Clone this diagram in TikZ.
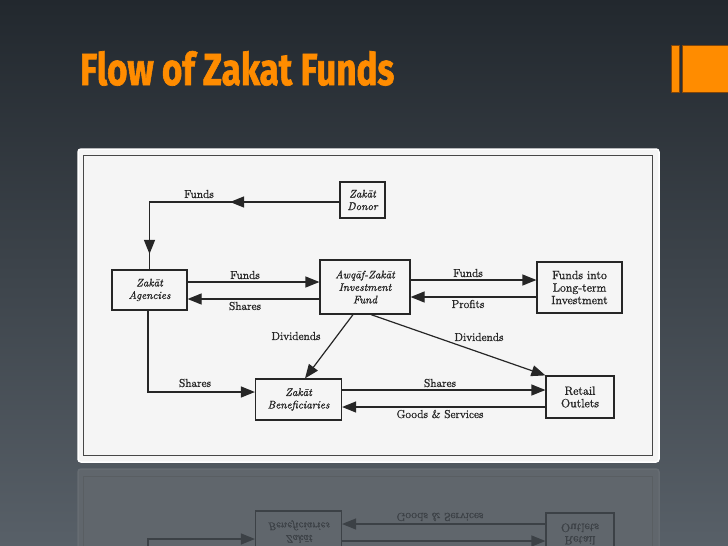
\documentclass[tikz,border=0pt]{standalone}
\usepackage{fontspec}
\setmainfont{Latin Modern Roman}[FakeBold=1.2]
\usepackage{graphicx}
\usetikzlibrary{arrows.meta,decorations.markings}
\newfontfamily\titlefont{Fira Sans}[FakeBold=1.5]
\definecolor{bgtop}{RGB}{34,40,46}
\definecolor{bgbot}{RGB}{88,96,104}
\definecolor{orng}{RGB}{255,140,0}
\definecolor{orngdark}{RGB}{130,70,10}
\definecolor{paper}{RGB}{245,245,245}
\definecolor{panelline}{RGB}{255,255,255}
\definecolor{ink}{RGB}{38,38,38}
\tikzset{
  box/.style={draw=ink, line width=1.2pt, fill=paper, inner sep=0pt, align=center,
    font=\fontsize{12}{12.5}\selectfont, text=ink},
  itbox/.style={box, font=\fontsize{11}{12.5}\selectfont\itshape},
  flow/.style={draw=ink, line width=1.2pt},
  tip/.style={-{Triangle[length=14pt,width=11pt]}},
  lbl/.style={font=\fontsize{11.5}{12}\selectfont, text=ink, inner sep=0pt},
  panelbox/.style={draw=panelline, line width=1.5pt, fill=paper, rounded corners=3pt,
    minimum width=581pt, minimum height=313pt, inner sep=0pt},
  framebox/.style={draw=ink!85, line width=1pt, minimum width=569pt, minimum height=300pt,
    inner sep=0pt},
}
\begin{document}
\begin{tikzpicture}[x=1pt,y=-1pt]
  \useasboundingbox (0,0) rectangle (728,546);
  \shade[top color=bgtop, bottom color=bgbot] (0,0) rectangle (728,546);
  % title and decorative bars
  \node[anchor=south west, inner sep=0pt, text=orng] (title) at (80,86)
    {\resizebox{314pt}{34pt}{\titlefont\bfseries Flow of Zakat Funds}};
  \fill[orng, draw=orngdark, line width=0.8pt] (671,45) rectangle (679,92);
  \fill[orng, draw=orngdark, line width=0.8pt] (682,45) rectangle (729,92);
  % panel
  \node[panelbox] (panel) at (368.5,305.5) {};
  \node[framebox] (frame) at (367.5,305) {};
  % boxes
  \node[itbox, minimum width=45pt, minimum height=36pt] (donor) at (362.5,200) {Zak\=at\\Donor};
  \node[itbox, minimum width=75pt, minimum height=40pt] (agencies) at (149.5,290) {Zak\=at\\Agencies};
  \node[itbox, minimum width=90pt, minimum height=54pt] (fund) at (365,287) {Awq\=af-Zak\=at\\Investment\\Fund};
  \node[box, minimum width=85pt, minimum height=51pt] (longterm) at (579.5,287.5) {Funds into\\Long-term\\Investment};
  \node[itbox, minimum width=86pt, minimum height=41pt] (benef) at (298.5,399.5) {Zak\=at\\Beneficiaries};
  \node[box, minimum width=68pt, minimum height=42pt] (retail) at (580,397) {Retail\\Outlets};
  % connectors
  \draw[flow, postaction={decorate}, decoration={markings,
      mark=at position 0.425 with {\arrow{Triangle[length=14pt,width=11pt]}},
      mark=at position 0.94 with {\arrow{Triangle[length=14pt,width=11pt]}}}]
    (donor.west |- 0,202) -| (agencies.north);
  \draw[flow,tip] (agencies.east |- 0,282) -- (fund.west |- 0,282);
  \draw[flow,tip] (fund.west |- 0,299) -- (agencies.east |- 0,299);
  \draw[flow,tip] (fund.east |- 0,280) -- (longterm.west |- 0,280);
  \draw[flow,tip] (longterm.west |- 0,297) -- (fund.east |- 0,297);
  \draw[flow,tip] (fund.south -| 353,0) -- (benef.north -| 305,0);
  \draw[flow,tip] (fund.south -| 371,0) -- (retail.north west);
  \draw[flow,tip] (agencies.south -| 148,0) |- (benef.west |- 0,392);
  \draw[flow,tip] (benef.east |- 0,390) -- (retail.west |- 0,390);
  \draw[flow,tip] (retail.west |- 0,407) -- (benef.east |- 0,407);
  % labels
  \node[lbl] (l1) at (199,194) {Funds};
  \node[lbl] (l2) at (245,275) {Funds};
  \node[lbl] (l3) at (245,306) {Shares};
  \node[lbl] (l4) at (468,273) {Funds};
  \node[lbl] (l5) at (468,304) {Profits};
  \node[lbl] (l6) at (296,336) {Dividends};
  \node[lbl] (l7) at (479,337) {Dividends};
  \node[lbl] (l8) at (195,383) {Shares};
  \node[lbl] (l9) at (440,383) {Shares};
  \node[lbl] (l10) at (440,414) {Goods \& Services};
  % reflection (lower part of the panel only)
  \begin{scope}
    \clip (0,466) rectangle (728,546);
    \definecolor{paper}{RGB}{96,102,108}
    \definecolor{panelline}{RGB}{102,108,114}
    \definecolor{ink}{RGB}{60,65,70}
    \begin{scope}[yshift=-931pt, yscale=-1, transform shape]
      \node[panelbox] (r-panel) at (368.5,305.5) {};
      \node[framebox] (r-frame) at (367.5,305) {};
      \node[itbox, minimum width=86pt, minimum height=41pt] (r-benef) at (298.5,399.5) {Zak\=at\\Beneficiaries};
      \node[box, minimum width=68pt, minimum height=42pt] (r-retail) at (580,397) {Retail\\Outlets};
      \coordinate (r-ag) at (148,380);
      \draw[flow,tip] (r-ag) |- (r-benef.west |- 0,392);
      \draw[flow,tip] (r-benef.east |- 0,390) -- (r-retail.west |- 0,390);
      \draw[flow,tip] (r-retail.west |- 0,407) -- (r-benef.east |- 0,407);
      \node[lbl] (r-l10) at (440,414) {Goods \& Services};
    \end{scope}
  \end{scope}
\end{tikzpicture}
\end{document}
